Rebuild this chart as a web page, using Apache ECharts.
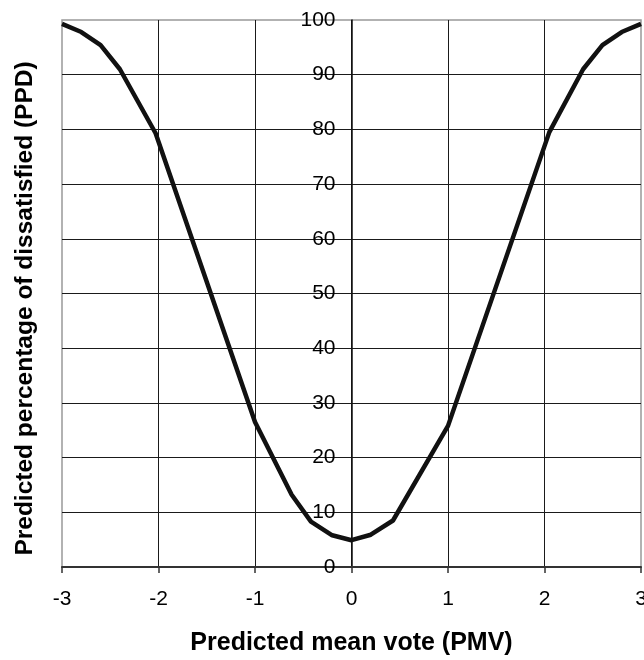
<!DOCTYPE html>
<html>
<head>
<meta charset="utf-8">
<script src="https://cdn.jsdelivr.net/npm/echarts@6/dist/echarts.min.js"></script>
<style>
html,body{margin:0;padding:0;background:#fff;}
#chart{width:644px;height:660px;}
</style>
</head>
<body>
<div id="chart"></div>
<script>
// Predicted mean vote (x) and predicted percentage of dissatisfied (y)
var pmv = [-3, -2.8, -2.6, -2.4, -2.03, -1, -0.62, -0.42, -0.2, 0, 0.2, 0.43, 1, 2.05, 2.4, 2.6, 2.8, 3];
var ppd = [99.3, 97.8, 95.4, 91, 79.3, 26.5, 13.2, 8.3, 5.8, 4.9, 5.9, 8.5, 25.8, 79.5, 91, 95.4, 97.8, 99.3];
var xTicks = [-3, -2, -1, 0, 1, 2, 3];
var yTicks = [0, 10, 20, 30, 40, 50, 60, 70, 80, 90, 100];
var xTitle = 'Predicted mean vote (PMV)';
var yTitle = 'Predicted percentage of dissatisfied (PPD)';

var data = pmv.map(function (v, i) { return [v, ppd[i]]; });
var FONT = "'Liberation Sans', Arial, sans-serif";

var GRID_LEFT = 62, GRID_RIGHT = 3, CHART_W = 644;
var plotW = CHART_W - GRID_LEFT - GRID_RIGHT;
// y axis sits at PMV = 0 (middle of the x range)
var yAxisOffset = -plotW * (0 - xTicks[0]) / (xTicks[xTicks.length - 1] - xTicks[0]);

var chart = echarts.init(document.getElementById('chart'), null, {renderer: 'canvas'});
chart.setOption({
  animation: false,
  backgroundColor: '#fff',
  grid: {
    left: GRID_LEFT, right: GRID_RIGHT, top: 20, bottom: 93,
    containLabel: false,
    outerBoundsMode: 'none',
    show: true, borderColor: '#999', borderWidth: 1.5, backgroundColor: 'transparent'
  },
  xAxis: {
    type: 'value',
    min: xTicks[0], max: xTicks[xTicks.length - 1], interval: 1,
    name: xTitle,
    nameLocation: 'middle',
    nameGap: 64,
    nameTextStyle: {fontFamily: FONT, fontSize: 25, fontWeight: 'bold', color: '#000'},
    axisLine: {show: true, onZero: false, lineStyle: {color: '#333', width: 2}},
    axisTick: {show: true, length: 6, lineStyle: {color: '#333', width: 1.5}},
    axisLabel: {fontFamily: FONT, fontSize: 21, color: '#000', margin: 22},
    splitLine: {show: true, showMinLine: false, showMaxLine: false, lineStyle: {color: '#1a1a1a', width: 1}}
  },
  yAxis: {
    type: 'value',
    min: yTicks[0], max: yTicks[yTicks.length - 1], interval: 10,
    offset: yAxisOffset,
    name: yTitle,
    nameLocation: 'middle',
    nameRotate: 90,
    nameGap: 314,
    nameTextStyle: {fontFamily: FONT, fontSize: 24.5, fontWeight: 'bold', color: '#000', padding: [0, 30, 0, 0]},
    axisLine: {show: true, onZero: false, lineStyle: {color: '#111', width: 1.5}},
    axisTick: {show: false},
    axisLabel: {fontFamily: FONT, fontSize: 21, color: '#000', margin: 16},
    splitLine: {show: true, showMinLine: false, showMaxLine: false, lineStyle: {color: '#1a1a1a', width: 1}}
  },
  series: [{
    type: 'line',
    data: data,
    showSymbol: false,
    smooth: false,
    lineStyle: {color: '#111', width: 4.5},
    z: 5
  }]
});
</script>
</body>
</html>
